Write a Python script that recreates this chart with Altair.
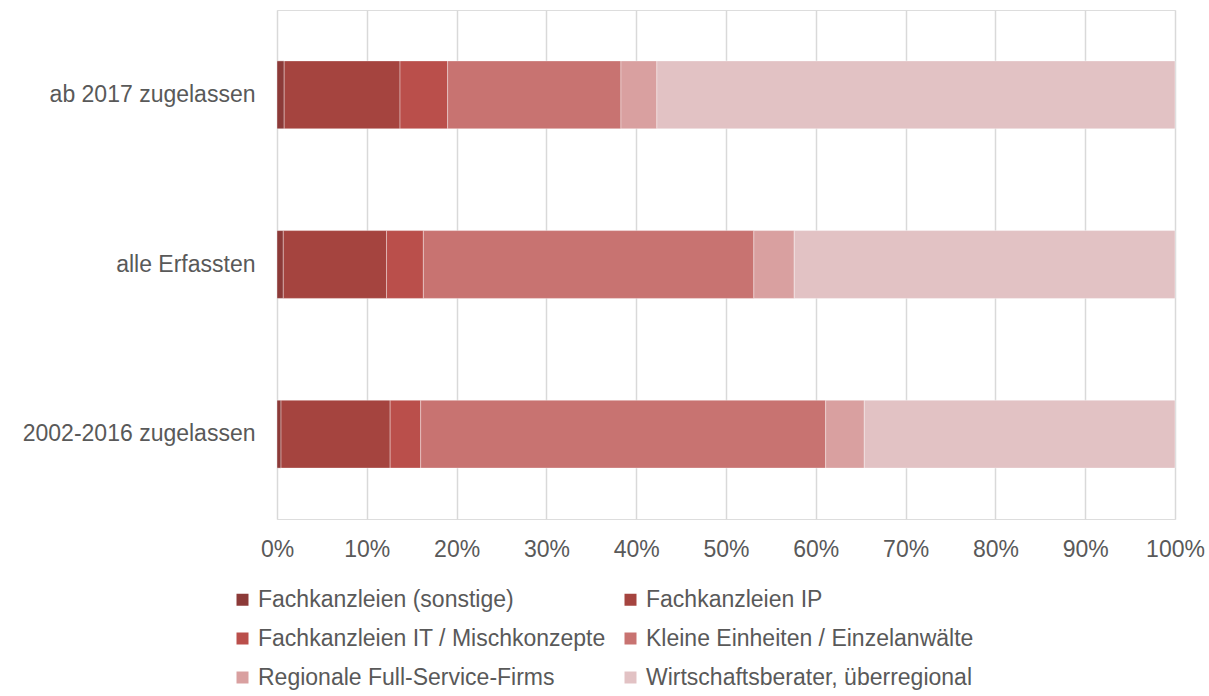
import altair as alt
import pandas as pd

# Kanzleityp-Verteilung je Zulassungskohorte (Anteile in %)
groups = ["ab 2017 zugelassen", "alle Erfassten", "2002-2016 zugelassen"]
categories = [
    "Fachkanzleien (sonstige)",
    "Fachkanzleien IP",
    "Fachkanzleien IT / Mischkonzepte",
    "Kleine Einheiten / Einzelanwälte",
    "Regionale Full-Service-Firms",
    "Wirtschaftsberater, überregional",
]
shares_ab_2017 = [0.8, 12.9, 5.3, 19.3, 4.0, 57.7]
shares_alle = [0.7, 11.5, 4.1, 36.8, 4.5, 42.4]
shares_2002_2016 = [0.45, 12.15, 3.4, 45.1, 4.3, 34.6]
colors = ["#8C3A38", "#A5443F", "#BA4F4B", "#C87371", "#D9A0A0", "#E2C2C4"]

rows = []
for grp, vals in zip(groups, [shares_ab_2017, shares_alle, shares_2002_2016]):
    for i, (cat, v) in enumerate(zip(categories, vals)):
        rows.append({"Gruppe": grp, "Kategorie": cat, "Anteil": v / 100.0, "idx": i})
df = pd.DataFrame(rows)

font = "Arial, Liberation Sans, sans-serif"
grey = "#595959"
fsize = 23

chart = (
    alt.Chart(df)
    .mark_bar(stroke="white", strokeWidth=0.8, strokeOpacity=0.45)
    .encode(
        x=alt.X(
            "Anteil:Q",
            stack="normalize",
            scale=alt.Scale(domain=[0, 1], nice=False),
            axis=alt.Axis(
                format=".0%",
                values=[i / 10 for i in range(11)],
                title=None,
                domain=False,
                ticks=False,
                grid=True,
                gridColor="#D9D9D9",
                gridWidth=1.5,
                labelFont=font,
                labelFontSize=fsize,
                labelColor=grey,
                labelPadding=19,
                labelFlush=False,
                labelOverlap=False,
            ),
        ),
        y=alt.Y(
            "Gruppe:N",
            sort=groups,
            scale=alt.Scale(paddingInner=0.6, paddingOuter=0.3),
            axis=alt.Axis(
                title=None,
                domain=False,
                ticks=False,
                labelFont=font,
                labelFontSize=fsize,
                labelColor=grey,
                labelPadding=22,
                labelLimit=400,
            ),
        ),
        color=alt.Color(
            "Kategorie:N",
            sort=categories,
            scale=alt.Scale(domain=categories, range=colors),
            legend=alt.Legend(
                title=None,
                orient="none",
                legendX=-46,
                legendY=578,
                columns=2,
                direction="horizontal",
                symbolType="square",
                symbolSize=144,
                symbolStrokeWidth=0,
                labelFont=font,
                labelFontSize=fsize,
                labelColor=grey,
                labelOffset=4,
                rowPadding=15,
                columnPadding=13,
                padding=0,
                labelLimit=500,
            ),
        ),
        order=alt.Order("idx:Q", sort="ascending"),
    )
    .properties(
        width=898,
        height=509,
        padding={"left": 277, "top": 10, "right": 34, "bottom": 177},
        autosize=alt.AutoSizeParams(type="none"),
    )
    .configure_view(stroke=None)
    .configure(background="white")
)

chart.save("out.html", embed_options={"renderer": "svg", "actions": False})
